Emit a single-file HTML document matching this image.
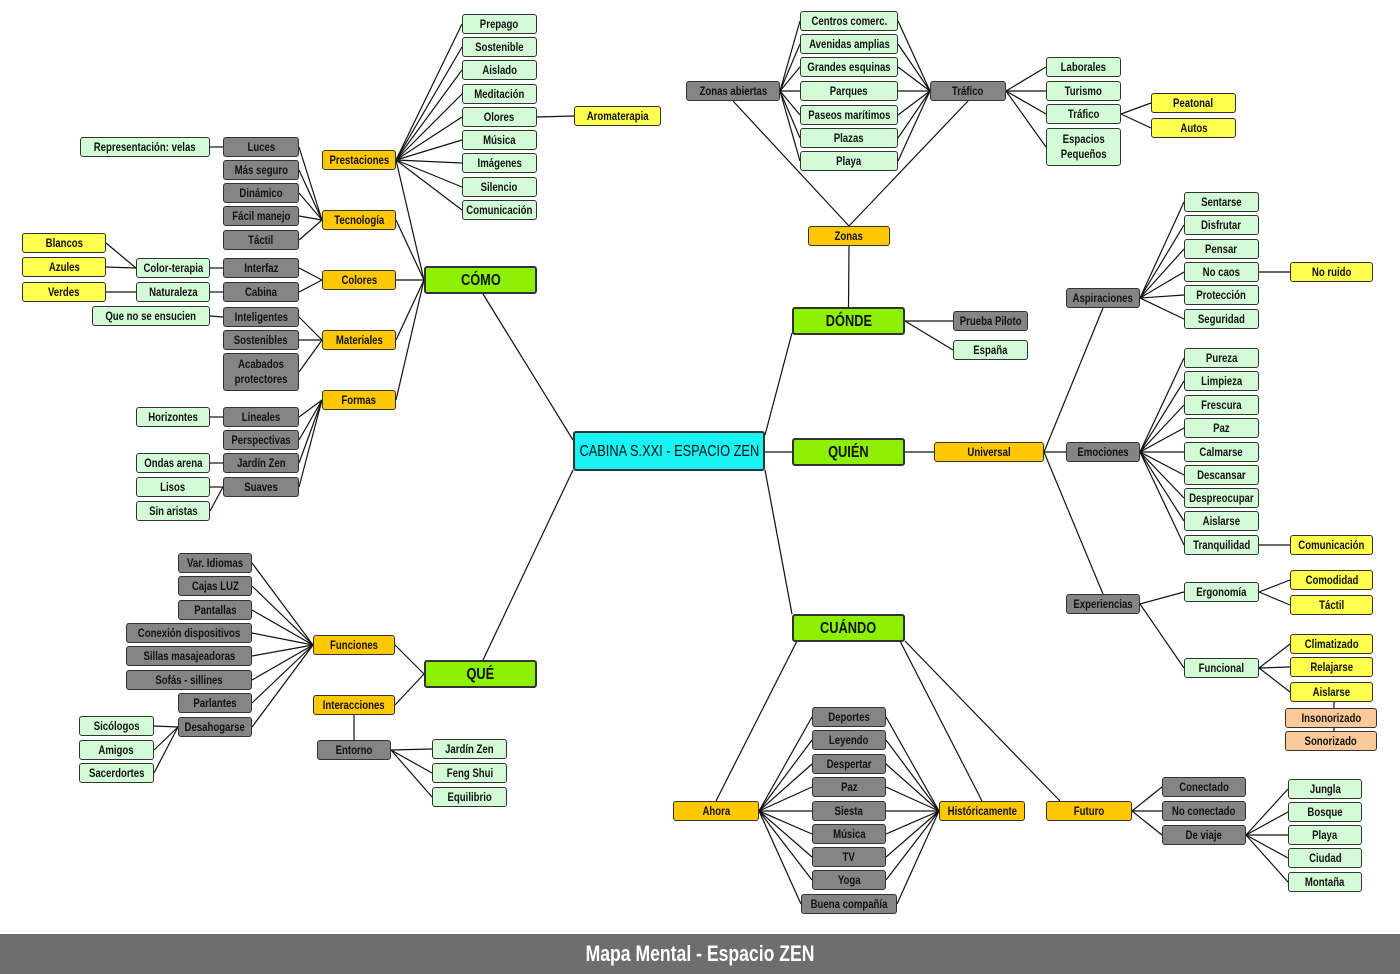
<!DOCTYPE html><html><head><meta charset="utf-8"><style>
body{margin:0;width:1400px;height:974px;background:#fff;position:relative;overflow:hidden;font-family:"Liberation Sans",sans-serif;}
.n{position:absolute;box-sizing:border-box;border:1.5px solid #333;border-radius:3px;display:flex;align-items:center;justify-content:center;text-align:center;font-weight:bold;font-size:12px;line-height:15px;color:#111;white-space:nowrap;}
.n span{display:inline-block;transform:scaleX(0.8);}
.g{background:#d3fbd6}.y{background:#ffff4d}.o{background:#ffc800}.d{background:#848484;color:#111}.m{background:#8cf000;font-size:16px;border-width:2px}.c{background:#18f3f3;font-size:16px;border-width:2px;font-weight:normal}.p{background:#fbca98}
svg{position:absolute;left:0;top:0}
#foot{position:absolute;left:0;top:934px;width:1400px;height:40px;background:#6e6e6e;color:#fff;font-weight:bold;font-size:22px;display:flex;align-items:center;justify-content:center;}
#foot span{display:inline-block;transform:scaleX(0.8);}
</style></head><body>
<svg id="s" width="1400" height="974"></svg>
<div id="foot"><span>Mapa Mental - Espacio ZEN</span></div>
<script>
var N={},E=[];
function n(id,t,x,y,w,c,h){N[id]={t:t,x:x,y:y,w:w,h:h||20,c:c};}
n('C','CABINA S.XXI - ESPACIO ZEN',573,431,192,'c',40);
n('COMO','CÓMO',424,266,113,'m',28);n('QUE','QUÉ',424,660,113,'m',28);n('DONDE','DÓNDE',792,307,113,'m',28);n('QUIEN','QUIÉN',792,438,113,'m',28);n('CUANDO','CUÁNDO',792,614,113,'m',28);
function kids(p,arr){arr.forEach(function(a){n(a[0],a[1],a[2],a[3],a[4],a[5],a[6]);E.push([p,a[0]]);});}
kids('COMO',[['pre','Prestaciones',322,150,74,'o'],['tec','Tecnología',322,210,74,'o'],['col','Colores',322,270,74,'o'],['mat','Materiales',322,330,74,'o'],['for','Formas',322,390,74,'o']]);
var pl=['Prepago','Sostenible','Aislado','Meditación','Olores','Música','Imágenes','Silencio','Comunicación'],py=[14,37,60,84,107,130,153,177,200];
kids('pre',pl.map(function(t,i){return ['pr'+i,t,462,py[i],75,'g'];}));
kids('pr4',[['aro','Aromaterapia',574,106,87,'y']]);
kids('tec',[['luc','Luces',223,137,76,'d'],['t2','Más seguro',223,160,76,'d'],['t3','Dinámico',223,183,76,'d'],['t4','Fácil manejo',223,206,76,'d'],['t5','Táctil',223,230,76,'d']]);
kids('luc',[['rep','Representación: velas',80,137,130,'g']]);
kids('col',[['int','Interfaz',223,258,76,'d'],['cab','Cabina',223,282,76,'d']]);
kids('int',[['ct','Color-terapia',136,258,74,'g']]);kids('cab',[['nat','Naturaleza',136,282,74,'g']]);
kids('ct',[['bl','Blancos',22,233,84,'y'],['az','Azules',22,257,84,'y']]);kids('nat',[['ve','Verdes',22,282,84,'y']]);
kids('mat',[['intl','Inteligentes',223,307,76,'d'],['m2','Sostenibles',223,330,76,'d'],['m3','Acabados<br>protectores',223,353,76,'d',38]]);
kids('intl',[['qn','Que no se ensucien',92,306,118,'g']]);
kids('for',[['lin','Lineales',223,407,76,'d'],['f2','Perspectivas',223,430,76,'d'],['jz','Jardín Zen',223,453,76,'d'],['sua','Suaves',223,477,76,'d']]);
kids('lin',[['hor','Horizontes',136,407,74,'g']]);kids('jz',[['oa','Ondas arena',136,453,74,'g']]);kids('sua',[['lis','Lisos',136,477,74,'g'],['sa','Sin aristas',136,501,74,'g']]);
kids('QUE',[['fun','Funciones',313,635,82,'o'],['inte','Interacciones',313,695,82,'o']]);
kids('fun',[['q1','Var. Idiomas',178,553,74,'d'],['q2','Cajas LUZ',178,576,74,'d'],['q3','Pantallas',178,600,74,'d'],['q4','Conexión dispositivos',126,623,126,'d'],['q5','Sillas masajeadoras',126,646,126,'d'],['q6','Sofás - sillines',126,670,126,'d'],['q7','Parlantes',178,693,74,'d'],['des','Desahogarse',178,717,74,'d']]);
kids('des',[['s1','Sicólogos',79,716,75,'g'],['s2','Amigos',79,740,75,'g'],['s3','Sacerdortes',79,763,75,'g']]);
kids('inte',[['ent','Entorno',317,740,74,'d']]);
kids('ent',[['e1','Jardín Zen',432,739,75,'g'],['e2','Feng Shui',432,763,75,'g'],['e3','Equilibrio',432,787,75,'g']]);
kids('DONDE',[['zon','Zonas',808,226,82,'o'],['pp','Prueba Piloto',953,311,75,'d'],['esp','España',953,340,75,'g']]);
kids('zon',[['za','Zonas abiertas',686,81,94,'d'],['tra','Tráfico',930,81,76,'d']]);
var zl=['Centros comerc.','Avenidas amplias','Grandes esquinas','Parques','Paseos marítimos','Plazas','Playa'],zy=[11,34,57,81,105,128,151];
zl.forEach(function(t,i){n('z'+i,t,800,zy[i],98,'g');E.push(['za','z'+i]);E.push(['tra','z'+i]);});
kids('tra',[['la','Laborales',1046,57,75,'g'],['tu','Turismo',1046,81,75,'g'],['tr2','Tráfico',1046,104,75,'g'],['ep','Espacios<br>Pequeños',1046,128,75,'g',38]]);
kids('tr2',[['pe','Peatonal',1151,93,85,'y'],['au','Autos',1151,118,85,'y']]);
kids('QUIEN',[['uni','Universal',934,442,110,'o']]);
n('asp','Aspiraciones',1066,288,74,'d');n('emo','Emociones',1066,442,74,'d');n('exp','Experiencias',1066,594,74,'d');E.push(['uni','emo']);
var al=['Sentarse','Disfrutar','Pensar','No caos','Protección','Seguridad'],ay=[192,215,239,262,285,309];
kids('asp',al.map(function(t,i){return ['a'+i,t,1184,ay[i],75,'g'];}));
kids('a3',[['nr','No ruido',1290,262,83,'y']]);
var el=['Pureza','Limpieza','Frescura','Paz','Calmarse','Descansar','Despreocupar','Aislarse','Tranquilidad'],ey=[348,371,395,418,442,465,488,511,535];
kids('emo',el.map(function(t,i){return ['em'+i,t,1184,ey[i],75,'g'];}));
kids('em8',[['com','Comunicación',1290,535,83,'y']]);
kids('exp',[['erg','Ergonomía',1184,582,75,'g'],['fnc','Funcional',1184,658,75,'g']]);
kids('erg',[['cm','Comodidad',1290,570,83,'y'],['tc','Táctil',1290,595,83,'y']]);
kids('fnc',[['cl','Climatizado',1290,634,83,'y'],['re','Relajarse',1290,657,83,'y'],['ai','Aislarse',1290,682,83,'y']]);
n('ins','Insonorizado',1285,708,92,'p');n('son','Sonorizado',1285,731,92,'p');
n('aho','Ahora',673,801,86,'o');n('his','Históricamente',939,801,86,'o');n('fut','Futuro',1046,801,86,'o');
var hl=['Deportes','Leyendo','Despertar','Paz','Siesta','Música','TV','Yoga','Buena compañía'],hy=[707,730,754,777,801,824,847,870,894];
hl.forEach(function(t,i){var w=i==8?96:74;n('h'+i,t,i==8?801:812,hy[i],w,'d');E.push(['aho','h'+i]);E.push(['his','h'+i]);});
kids('fut',[['f1','Conectado',1162,777,84,'d'],['f2b','No conectado',1162,801,84,'d'],['dv','De viaje',1162,825,84,'d']]);
kids('dv',[['v1','Jungla',1288,779,74,'g'],['v2','Bosque',1288,802,74,'g'],['v3','Playa',1288,825,74,'g'],['v4','Ciudad',1288,848,74,'g'],['v5','Montaña',1288,872,74,'g']]);
var L=[[483,294,573,440],[483,660,573,470],[792,333,765,435],[792,452,765,452],[792,614,765,470],[1334,702,1334,708],[1334,728,1334,731],
[1044,452,1103,308],[1044,452,1103,594],[797,641,716,801],[900,641,982,801],[905,641,1060,801]];
E.forEach(function(e){var a=N[e[0]],b=N[e[1]];var ax=a.x+a.w/2,ay=a.y+a.h/2,bx=b.x+b.w/2,by=b.y+b.h/2;var dx=bx-ax,dy=by-ay;
if(Math.abs(dy)>Math.abs(dx)){L.push([ax,dy>0?a.y+a.h:a.y,bx,dy>0?b.y:b.y+b.h]);}else{L.push([dx>0?a.x+a.w:a.x,ay,dx>0?b.x:b.x+b.w,by]);}});
var s='';L.forEach(function(l){s+='<line x1="'+l[0]+'" y1="'+l[1]+'" x2="'+l[2]+'" y2="'+l[3]+'" stroke="#111" stroke-width="1.2"/>';});
document.getElementById('s').innerHTML=s;
var h='';for(var k in N){var o=N[k];h+='<div class="n '+o.c+'" style="left:'+o.x+'px;top:'+o.y+'px;width:'+o.w+'px;height:'+o.h+'px"><span>'+o.t+'</span></div>';}
document.body.insertAdjacentHTML('beforeend',h);
</script>
</body></html>
